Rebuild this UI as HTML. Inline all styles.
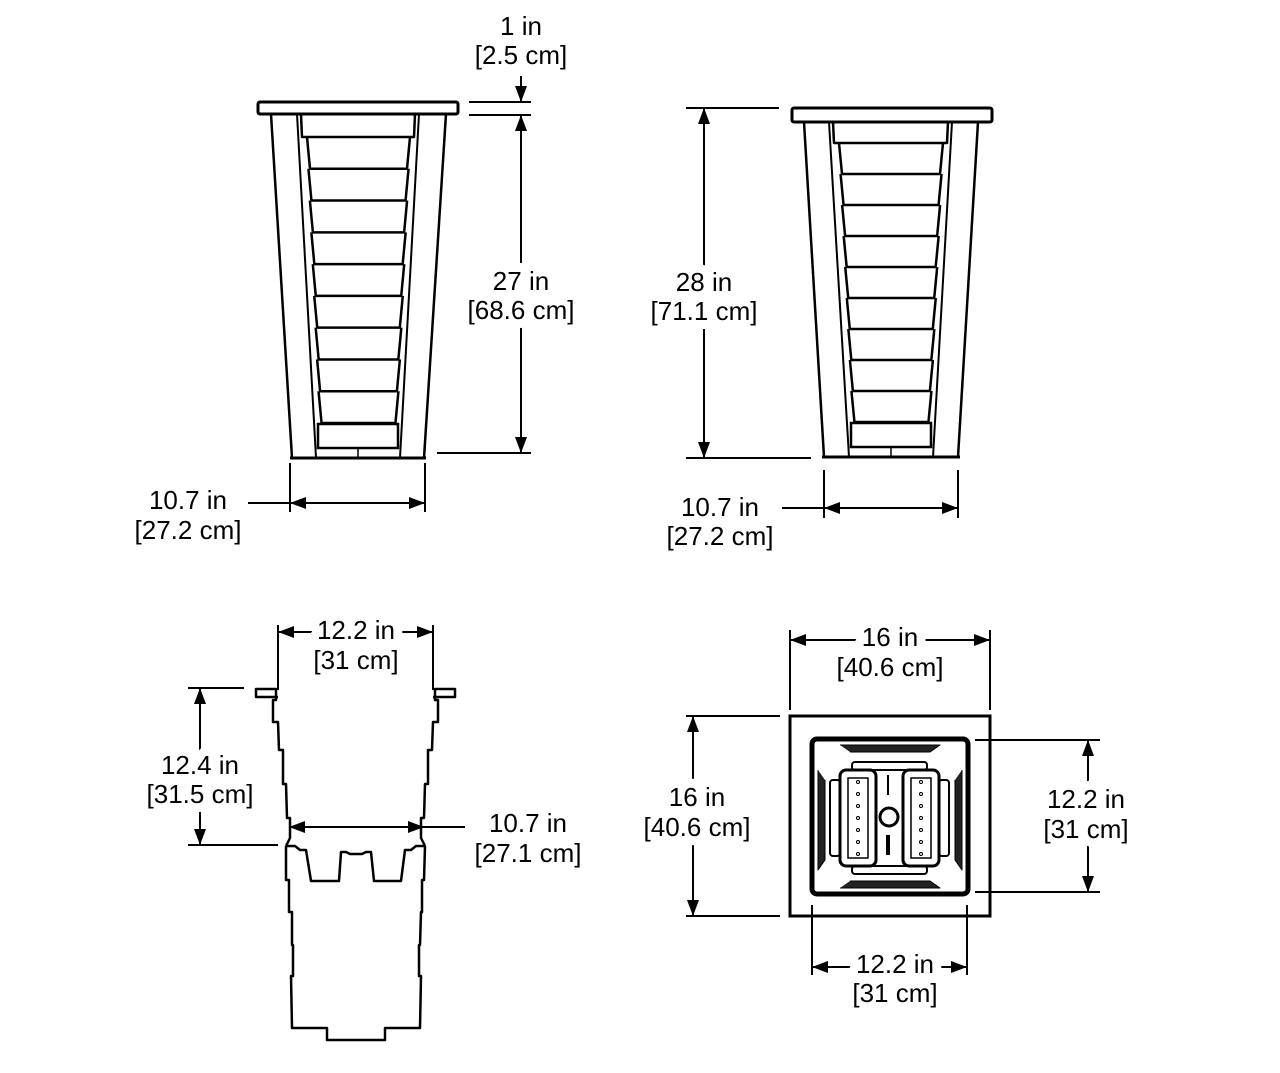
<!DOCTYPE html>
<html><head><meta charset="utf-8"><style>
html,body{margin:0;padding:0;background:#fff;}
svg{display:block;}
text{font-family:"Liberation Sans",sans-serif;font-size:26px;fill:#000;text-anchor:middle;stroke:#fff;stroke-width:18px;paint-order:stroke;stroke-linejoin:round;}
</style></head><body>
<svg id="s" width="1280" height="1073" viewBox="0 0 1280 1073" xmlns="http://www.w3.org/2000/svg">
<defs>
<marker id="a" viewBox="0 0 16 12" refX="16" refY="6" markerWidth="16" markerHeight="12" markerUnits="userSpaceOnUse" orient="auto-start-reverse"><path d="M0,0 L16,6 L0,12 z" fill="#000"/></marker>
</defs>
<g id="g" fill="none" stroke="#000" stroke-width="2"></g>
<g id="t">
<text x="521" y="35">1 in</text><text x="521" y="64">[2.5 cm]</text>
<text x="521" y="290">27 in</text><text x="521" y="319">[68.6 cm]</text>
<text x="188" y="509">10.7 in</text><text x="188" y="539">[27.2 cm]</text>
<text x="704" y="291">28 in</text><text x="704" y="320">[71.1 cm]</text>
<text x="720" y="516">10.7 in</text><text x="720" y="545">[27.2 cm]</text>
<text x="356" y="639">12.2 in</text><text x="356" y="669">[31 cm]</text>
<text x="200" y="774">12.4 in</text><text x="200" y="803">[31.5 cm]</text>
<text x="528" y="832">10.7 in</text><text x="528" y="862">[27.1 cm]</text>
<text x="890" y="646">16 in</text><text x="890" y="676">[40.6 cm]</text>
<text x="697" y="806">16 in</text><text x="697" y="836">[40.6 cm]</text>
<text x="1086" y="808">12.2 in</text><text x="1086" y="838">[31 cm]</text>
<text x="895" y="973">12.2 in</text><text x="895" y="1002">[31 cm]</text>
</g>
</svg>
<script>
var g=document.getElementById('g'),NS='http://www.w3.org/2000/svg';
function el(t,a){var e=document.createElementNS(NS,t);for(var k in a)e.setAttribute(k,a[k]);g.appendChild(e);return e;}
function L(x1,y1,x2,y2,w){el('line',{x1:x1,y1:y1,x2:x2,y2:y2,'stroke-width':w||2});}
function A(x1,y1,x2,y2,both){var e=el('line',{x1:x1,y1:y1,x2:x2,y2:y2,'marker-end':'url(#a)'});if(both)e.setAttribute('marker-start','url(#a)');}
function P(pts,w,fill){el('polyline',{points:pts,'stroke-width':w||2.5,fill:fill||'none','stroke-linejoin':'round'});}
function planter(lx,lr,ly,lb,ol,or_,olb,orb,il,ir,ilb,irb,bot,hdr){
 el('rect',{x:lx,y:ly,width:lr-lx,height:lb-ly,rx:2,'stroke-width':3});
 L(ol,lb,olb,bot,2.5);L(or_,lb,orb,bot,2.5);L(il,lb,ilb,bot,2);L(ir,lb,irb,bot,2);
 L(olb-2,bot,orb+2,bot,3);
 P((il+4)+','+lb+' '+(il+5)+','+hdr[0]+' '+(ir-5)+','+hdr[0]+' '+(ir-4)+','+lb,2.5);
 var y0=hdr[0],y1=bot-35,n=9,h=(y1-y0)/n;
 for(var i=0;i<n;i++){var t=i/n,ya=y0+i*h,yb=ya+h;
  var xl=il+10+(ilb-il-6)*t, xr=ir-9-(ir-irb-6)*t;
  P(xl+','+ya+' '+(xl+3)+','+yb+' '+(xr-3)+','+yb+' '+xr+','+ya,2.5);}
 var xl2=ilb+2,xr2=irb-2;
 el('rect',{x:xl2,y:y1+1,width:xr2-xl2,height:24,'stroke-width':2.5});
 L((olb+orb)/2,bot-10,(olb+orb)/2,bot,1.5);
}
planter(258,458,102,114,271,446,292,424,297,419,316,400,458,[137]);
planter(792,992,108,122,804,978,824,958,829,952,849,933,457,[143]);
L(469,102,531,102);L(469,115,531,115);
A(521,76,521,102);A(521,453,521,115,true);
L(437,453,531,453);
L(290,463,290,512);L(425,463,425,512);A(290,503,425,503,true);L(248,503,290,503);
L(686,108,779,108);L(686,458,811,458);A(704,108,704,458,true);
L(824,470,824,518);L(958,470,958,518);A(824,508,958,508,true);L(782,508,824,508);
L(278,625,278,690);L(433,625,433,690);A(278,632,433,632,true);
L(188,688,244,688);L(188,845,278,845);A(200,688,200,845,true);
A(289,827,424,827,true);L(424,827,465,827);
P('278,697 256,697 256,689 276,689 276,700 273,700 273,722 278,722 279,750 283,750 283,784 286,784 287,818 290,818 290,838 286,846',2.5);
P('433,697 455,697 455,689 435,689 435,700 438,700 438,722 433,722 432,750 428,750 428,784 425,784 424,818 421,818 421,838 425,846',2.5);
P('286,846 295,846 300,850 306,850 311,881 339,881 341,852 346,852 350,854 362,854 366,852 371,852 374,881 401,881 405,850 411,850 416,846 425,846',2.5);
P('286,846 286,880 289,880 289,912 292,912 292,945 293,945 293,976 291,976 292,1028 327,1028 327,1040 385,1040 385,1028 420,1028 421,976 419,976 419,945 420,945 421,912 422,912 422,880 424,880 425,846',2.5);
el('rect',{x:790,y:716,width:200,height:200,'stroke-width':3});
el('rect',{x:812,y:739,width:156,height:155,rx:5,'stroke-width':5});
P('840,745 940,745 930,752 850,752 z',1,'#222');
P('840,888 940,888 930,881 850,881 z',1,'#222');
P('818,770 818,870 825,860 825,780 z',1,'#222');
P('962,770 962,870 955,860 955,780 z',1,'#222');
el('rect',{x:840,y:770,width:36,height:96,rx:6,'stroke-width':3});
el('rect',{x:903,y:770,width:36,height:96,rx:6,'stroke-width':3});
el('rect',{x:848,y:778,width:20,height:80,'stroke-width':1.5});
el('rect',{x:911,y:778,width:20,height:80,'stroke-width':1.5});
el('rect',{x:830,y:780,width:10,height:76,rx:3,'stroke-width':2});
el('rect',{x:939,y:780,width:10,height:76,rx:3,'stroke-width':2});
el('rect',{x:852,y:762,width:75,height:8,rx:3,'stroke-width':2});
el('rect',{x:852,y:866,width:75,height:8,rx:3,'stroke-width':2});
for(var i=0;i<7;i++){el('circle',{cx:858,cy:782+i*12,r:1.5,'stroke-width':1});el('circle',{cx:921,cy:782+i*12,r:1.5,'stroke-width':1});}
el('circle',{cx:889,cy:817,r:9,'stroke-width':3});
L(888,835,888,855,4);L(888,775,888,795,2);
L(790,630,790,710);L(990,630,990,710);A(790,640,990,640,true);
L(686,716,780,716);L(686,916,780,916);A(693,716,693,916,true);
L(975,740,1100,740);L(975,892,1100,892);A(1088,740,1088,892,true);
L(812,905,812,975);L(967,905,967,975);A(812,967,967,967,true);
document.getElementById('s').appendChild(document.getElementById('t'));
</script>
</body></html>
